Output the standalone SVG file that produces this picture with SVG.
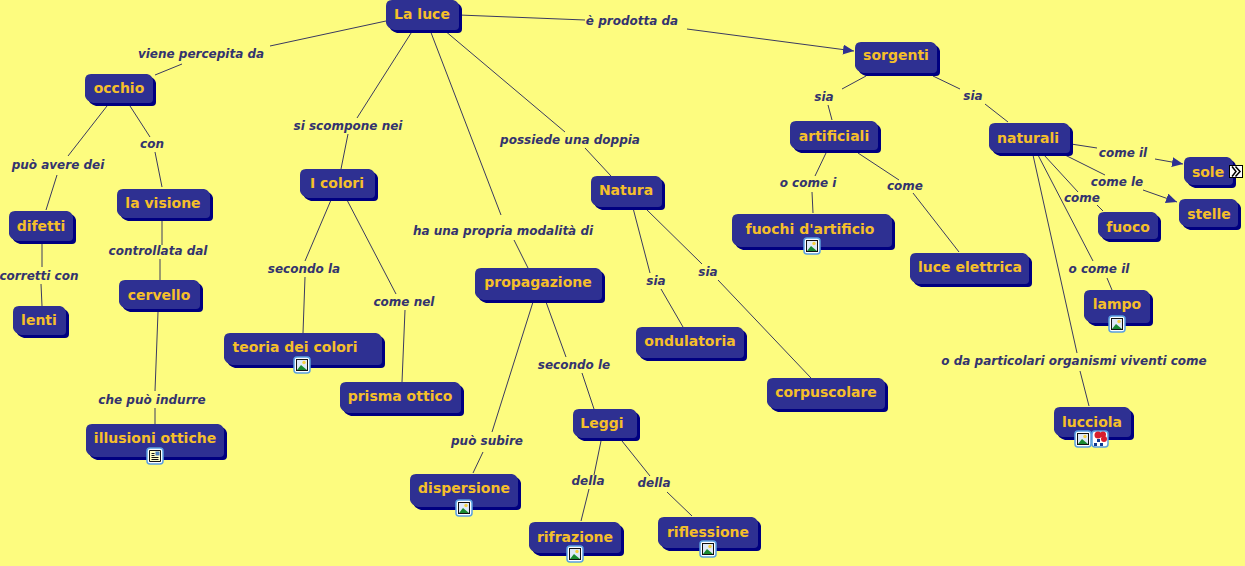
<svg xmlns="http://www.w3.org/2000/svg" width="1245" height="566" viewBox="0 0 1245 566">
<style>
.b{fill:#2e3092;filter:drop-shadow(3px 3px 0 #000080)}
.n{font:bold 14px "DejaVu Sans",sans-serif;fill:#f5bf2a;text-anchor:middle}
.l{font:italic bold 12px "DejaVu Sans",sans-serif;fill:#33336e;text-anchor:middle}
#connectors path{fill:none;stroke:#3a3a60;stroke-width:1}
</style>
<defs>
<marker id="a" markerUnits="userSpaceOnUse" markerWidth="13" markerHeight="12" refX="11" refY="5" orient="auto"><path d="M0 0L11 5L0 10Z" fill="#2e3092"/></marker>
<g id="pic"><rect x="-8" y="-8" width="16" height="16" rx="3" fill="#fff" stroke="#5a9fe0" stroke-width="1.5"/><rect x="-5.5" y="-5.5" width="11" height="11" fill="#dfe9f7" stroke="#111" stroke-width="1"/><path d="M-5 5L-1 0L5 5Z" fill="#1a8a30"/><circle cx="2" cy="-2.5" r="1.7" fill="#f5d040"/></g>
<g id="doc"><rect x="-8" y="-8" width="16" height="16" rx="3" fill="#fff" stroke="#5a9fe0" stroke-width="1.5"/><path d="M-5.500-5.500H5.500V5.500H-5.500Z" fill="#ffffc8" stroke="#111"/><path d="M-3.500 3.500H3.500M-3.500 1.500H3.500M-3.500-0.500H-0.500M-3.500-2.500H-0.500" stroke="#111" fill="none"/><rect x="0.500" y="-4.500" width="4" height="4" fill="#4a7fc0"/></g>
<g id="map"><rect x="-8" y="-8" width="16" height="16" rx="3" fill="#fff" stroke="#5a9fe0" stroke-width="1.5"/><circle cx="-2" cy="-4" r="3.5" fill="#d81e2c"/><circle cx="3" cy="-4.500" r="3" fill="#d81e2c"/><circle cx="4" cy="0" r="3" fill="#d81e2c"/><path d="M-3 0h3v3h-3zM-6 4h3v3h-3zM0 4h3v3h-3z" fill="#123a90"/></g>
</defs>
<rect width="1245" height="566" fill="#fdfc7f"/>
<g id="connectors">
<path d="M386 21L270 46M182 64L155 75"/>
<path d="M413 30L357 118M348 134L341 169"/>
<path d="M430 30L501 215M514 240L528 268"/>
<path d="M444 30L565 132M585 148L611 176"/>
<path d="M459 15L585 20"/>
<path d="M687 29L854 51" marker-end="url(#a)"/>
<path d="M866 76L842 89M828 105L832 120"/>
<path d="M933 76L960 89M985 104L1008 122"/>
<path d="M107 106L68 156M57 175L46 210"/>
<path d="M130 106L150 137M155 152L162 187"/>
<path d="M42 243L42 267M41 284L42 306"/>
<path d="M162 221L162 245M160 259L160 280"/>
<path d="M158 312L155 391M155 408L155 424"/>
<path d="M331 200L305 261M305 277L303 333"/>
<path d="M347 200L396 294M405 310L402 382"/>
<path d="M533 302L492 432M483 452L473 473"/>
<path d="M546 302L566 357M582 373L594 409"/>
<path d="M601 441L594 475M589 489L581 521"/>
<path d="M622 441L650 476M667 492L692 516"/>
<path d="M633 208L650 273M661 289L683 327"/>
<path d="M645 208L702 264M718 280L811 378"/>
<path d="M826 153L815 176M812 192L813 213"/>
<path d="M858 153L899 180M913 193L959 252"/>
<path d="M1071 144L1097 148"/>
<path d="M1155 159L1183 164" marker-end="url(#a)"/>
<path d="M1065 155L1105 175"/>
<path d="M1143 190L1177 202" marker-end="url(#a)"/>
<path d="M1044 155L1078 192M1097 205L1103 211"/>
<path d="M1038 155L1093 261M1107 278L1112 290"/>
<path d="M1033 155L1077 353M1080 371L1089 406"/>
</g>
<g id="n1"><path class="b" d="M392 0h61q5 1 6 6v20q0 4-4 4h-61q-7-2-8-7v-17q0-6 6-6z"/><text class="n" x="422" y="19">La luce</text></g>
<g id="n2"><path class="b" d="M91 74h56q5 1 6 6v19q0 4-4 4h-56q-7-2-8-7v-16q0-6 6-6z"/><text class="n" x="119" y="93">occhio</text></g>
<g id="n3"><path class="b" d="M861 42h70q5 1 6 6v21q0 4-4 4h-70q-7-2-8-7v-18q0-6 6-6z"/><text class="n" x="896" y="60">sorgenti</text></g>
<g id="n4"><path class="b" d="M796 121h76q5 1 6 6v19q0 4-4 4h-76q-7-2-8-7v-16q0-6 6-6z"/><text class="n" x="834" y="141">artificiali</text></g>
<g id="n5"><path class="b" d="M995 123h69q5 1 6 6v20q0 4-4 4h-69q-7-2-8-7v-17q0-6 6-6z"/><text class="n" x="1028" y="143">naturali</text></g>
<g id="n6"><path class="b" d="M1190 157h37q5 1 6 6v18q0 4-4 4h-37q-7-2-8-7v-15q0-6 6-6z"/><text class="n" x="1208" y="177">sole</text><rect x="1229.500" y="165.500" width="13" height="12" fill="#fff" stroke="#000"/><path d="M1232 166.500L1236 171.500L1232 176.500M1235.500 166.500L1240 171.500L1235.500 176.500" fill="none" stroke="#000" stroke-width="1.500"/></g>
<g id="n7"><path class="b" d="M1185 199h47q5 1 6 6v18q0 4-4 4h-47q-7-2-8-7v-15q0-6 6-6z"/><text class="n" x="1209" y="219">stelle</text></g>
<g id="n8"><path class="b" d="M1104 212h48q5 1 6 6v17q0 4-4 4h-48q-7-2-8-7v-14q0-6 6-6z"/><text class="n" x="1128" y="232">fuoco</text></g>
<g id="n9"><path class="b" d="M1090 290h54q5 1 6 6v23q0 4-4 4h-54q-7-2-8-7v-20q0-6 6-6z"/><text class="n" x="1117" y="309">lampo</text><use href="#pic" x="1117" y="324"/></g>
<g id="n10"><path class="b" d="M1060 407h65q5 1 6 6v20q0 4-4 4h-65q-7-2-8-7v-17q0-6 6-6z"/><text class="n" x="1092" y="427">lucciola</text><use href="#pic" x="1083" y="439"/><use href="#map" x="1100" y="439"/></g>
<g id="n11"><path class="b" d="M738 214h148q5 1 6 6v23q0 4-4 4h-148q-7-2-8-7v-20q0-6 6-6z"/><text class="n" x="810" y="234">fuochi d'artificio</text><use href="#pic" x="812" y="246"/></g>
<g id="n12"><path class="b" d="M916 253h107q5 1 6 6v21q0 4-4 4h-107q-7-2-8-7v-18q0-6 6-6z"/><text class="n" x="970" y="272">luce elettrica</text></g>
<g id="n13"><path class="b" d="M306 169h63q5 1 6 6v19q0 4-4 4h-63q-7-2-8-7v-16q0-6 6-6z"/><text class="n" x="337" y="188">I colori</text></g>
<g id="n14"><path class="b" d="M597 176h59q5 1 6 6v21q0 4-4 4h-59q-7-2-8-7v-18q0-6 6-6z"/><text class="n" x="626" y="195">Natura</text></g>
<g id="n15"><path class="b" d="M481 268h115q5 1 6 6v22q0 4-4 4h-115q-7-2-8-7v-19q0-6 6-6z"/><text class="n" x="538" y="287">propagazione</text></g>
<g id="n16"><path class="b" d="M123 189h81q5 1 6 6v19q0 4-4 4h-81q-7-2-8-7v-16q0-6 6-6z"/><text class="n" x="163" y="208">la visione</text></g>
<g id="n17"><path class="b" d="M15 211h52q5 1 6 6v20q0 4-4 4h-52q-7-2-8-7v-17q0-6 6-6z"/><text class="n" x="41" y="231">difetti</text></g>
<g id="n18"><path class="b" d="M19 306h41q5 1 6 6v19q0 4-4 4h-41q-7-2-8-7v-16q0-6 6-6z"/><text class="n" x="39" y="325">lenti</text></g>
<g id="n19"><path class="b" d="M125 280h69q5 1 6 6v19q0 4-4 4h-69q-7-2-8-7v-16q0-6 6-6z"/><text class="n" x="159" y="300">cervello</text></g>
<g id="n20"><path class="b" d="M92 424h126q5 1 6 6v23q0 4-4 4h-126q-7-2-8-7v-20q0-6 6-6z"/><text class="n" x="155" y="443">illusioni ottiche</text><use href="#doc" x="155" y="456"/></g>
<g id="n21"><path class="b" d="M230 333h146q5 1 6 6v22q0 4-4 4h-146q-7-2-8-7v-19q0-6 6-6z"/><text class="n" x="295" y="352">teoria dei colori</text><use href="#pic" x="302" y="365"/></g>
<g id="n22"><path class="b" d="M346 382h109q5 1 6 6v21q0 4-4 4h-109q-7-2-8-7v-18q0-6 6-6z"/><text class="n" x="400" y="401">prisma ottico</text></g>
<g id="n23"><path class="b" d="M642 327h96q5 1 6 6v21q0 4-4 4h-96q-7-2-8-7v-18q0-6 6-6z"/><text class="n" x="690" y="346">ondulatoria</text></g>
<g id="n24"><path class="b" d="M773 378h106q5 1 6 6v21q0 4-4 4h-106q-7-2-8-7v-18q0-6 6-6z"/><text class="n" x="826" y="397">corpuscolare</text></g>
<g id="n25"><path class="b" d="M579 409h52q5 1 6 6v19q0 4-4 4h-52q-7-2-8-7v-16q0-6 6-6z"/><text class="n" x="602" y="428">Leggi</text></g>
<g id="n26"><path class="b" d="M416 474h96q5 1 6 6v23q0 4-4 4h-96q-7-2-8-7v-20q0-6 6-6z"/><text class="n" x="464" y="493">dispersione</text><use href="#pic" x="464" y="508"/></g>
<g id="n27"><path class="b" d="M535 522h80q5 1 6 6v21q0 4-4 4h-80q-7-2-8-7v-18q0-6 6-6z"/><text class="n" x="575" y="542">rifrazione</text><use href="#pic" x="575" y="554"/></g>
<g id="n28"><path class="b" d="M664 517h88q5 1 6 6v21q0 4-4 4h-88q-7-2-8-7v-18q0-6 6-6z"/><text class="n" x="708" y="537">riflessione</text><use href="#pic" x="708" y="549"/></g>
<g id="labels">
<text class="l" x="201" y="58">viene percepita da</text>
<text class="l" x="632" y="25">è prodotta da</text>
<text class="l" x="348" y="130">si scompone nei</text>
<text class="l" x="570" y="144">possiede una doppia</text>
<text class="l" x="503" y="235">ha una propria modalità di</text>
<text class="l" x="824" y="101">sia</text>
<text class="l" x="973" y="100">sia</text>
<text class="l" x="58" y="169">può avere dei</text>
<text class="l" x="152" y="148">con</text>
<text class="l" x="158" y="255">controllata dal</text>
<text class="l" x="39" y="280">corretti con</text>
<text class="l" x="152" y="404">che può indurre</text>
<text class="l" x="304" y="273">secondo la</text>
<text class="l" x="404" y="306">come nel</text>
<text class="l" x="487" y="445">può subire</text>
<text class="l" x="574" y="369">secondo le</text>
<text class="l" x="588" y="485">della</text>
<text class="l" x="654" y="487">della</text>
<text class="l" x="656" y="285">sia</text>
<text class="l" x="708" y="276">sia</text>
<text class="l" x="808" y="187">o come i</text>
<text class="l" x="905" y="190">come</text>
<text class="l" x="1123" y="157">come il</text>
<text class="l" x="1117" y="186">come le</text>
<text class="l" x="1082" y="202">come</text>
<text class="l" x="1099" y="273">o come il</text>
<text class="l" x="1074" y="365">o da particolari organismi viventi come</text>
</g>
</svg>
